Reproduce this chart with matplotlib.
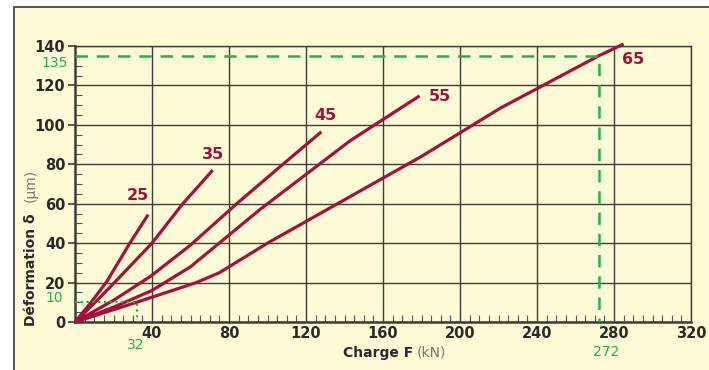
# Déformation en fonction de la charge (abaque)

import matplotlib.pyplot as plt
from matplotlib.patches import Rectangle
from matplotlib.ticker import MultipleLocator

F_25 = [0, 8, 16.5, 28.5, 38]
d_25 = [0, 9.5, 20.5, 40, 54.5]
F_35 = [0, 10, 20, 40, 56, 71.5]
d_35 = [0, 9.5, 19.5, 40, 60, 77]
F_45 = [0, 20, 39, 60, 84, 108, 128]
d_45 = [0, 11, 23, 39, 60, 80, 96.5]
F_55 = [0, 20, 40, 60, 96, 143, 179]
d_55 = [0, 7.5, 16, 28, 57, 92, 114.7]
F_65 = [0, 32, 63, 75, 100, 140, 180, 221, 272, 285]
d_65 = [0, 10, 20, 25, 40, 62, 84, 108.5, 135, 141]

courbes = ['25', '35', '45', '55', '65']
pos_etiq = [(32.5, 64), (71.5, 85), (130, 104.5), (189.5, 114.5), (290, 133)]

xticks = [40, 80, 120, 160, 200, 240, 280, 320]
yticks = [0, 20, 40, 60, 80, 100, 120, 140]

# exemple de lecture
F_ex1, d_ex1 = 272, 135
F_ex2, d_ex2 = 32, 10

rouge = '#A4113A'
vert = '#1DB44E'
fond = '#FFFBD6'

fig = plt.figure(figsize=(7.09, 3.70), dpi=100)
cadre = Rectangle((14/709, -0.1), 1.2, 1.1 - 7/370, transform=fig.transFigure,
                  facecolor=fond, edgecolor='#444444', linewidth=1.3, zorder=-5)
fig.add_artist(cadre)
ax = fig.add_axes([75/709, 1-322/370, 616/709, 276/370])
ax.set_facecolor(fond)

ax.set_xlim(0, 320)
ax.set_ylim(0, 140)
ax.set_xticks(xticks)
ax.set_yticks(yticks)
ax.xaxis.set_minor_locator(MultipleLocator(5))
ax.yaxis.set_minor_locator(MultipleLocator(5))
ax.grid(True, which='major', color='#3c3c3c', linewidth=1.0)
ax.tick_params(axis='x', which='major', length=0, pad=3, labelsize=10.5, labelcolor='#2a2a2a')
ax.tick_params(axis='y', which='major', length=5, width=1.2, color='#3c3c3c', pad=2,
               labelsize=10.5, labelcolor='#2a2a2a')
ax.tick_params(which='minor', direction='in', length=5, width=0.8, color='#555555')
for lab in ax.get_xticklabels() + ax.get_yticklabels():
    lab.set_fontweight('bold')
for s in ax.spines.values():
    s.set_color('#3c3c3c')
    s.set_linewidth(1.0)
ax.spines['left'].set_linewidth(1.8)
ax.spines['bottom'].set_linewidth(1.8)

# courbes
donnees = [(F_25, d_25), (F_35, d_35), (F_45, d_45), (F_55, d_55), (F_65, d_65)]
for (F, d), nom, (xe, ye) in zip(donnees, courbes, pos_etiq):
    ax.plot(F, d, color=rouge, linewidth=2.3, solid_capstyle='butt', solid_joinstyle='round',
            clip_on=False, zorder=4)
    ax.text(xe, ye, nom, color=rouge, fontsize=11.5, fontweight='bold', ha='center', va='center')

# lecture 65 : 272 kN -> 135 µm
ax.plot([0, F_ex1, F_ex1], [d_ex1, d_ex1, 0], color=vert, linewidth=1.8,
        linestyle=(0, (5, 3.5)), zorder=5)
# lecture 65 : 32 kN -> 10 µm
ax.plot([0, F_ex2, F_ex2], [d_ex2, d_ex2, 0], color=vert, linewidth=1.6,
        linestyle=(0, (1, 1.6)), zorder=5)

ax.text(-3.5, d_ex1 - 3.5, str(d_ex1), color=vert, fontsize=10, ha='right', va='center')
ax.text(-6, d_ex2 + 2, str(d_ex2), color=vert, fontsize=10, ha='right', va='center')
ax.text(F_ex2 + 4, -8, str(F_ex2), color=vert, fontsize=10, ha='right', va='top')
ax.text(F_ex1 + 4, -11.5, str(F_ex1), color=vert, fontsize=10, ha='center', va='top')

# titres des axes
fig.text(31/709, 1 - 326/370, 'Déformation δ', rotation=90, fontsize=10, fontweight='bold',
         color='#2a2a2a', ha='center', va='bottom')
fig.text(31/709, 1 - 202/370, '(µm)', rotation=90, fontsize=10, color='#777777',
         ha='center', va='bottom')
fig.text(413/709, 1 - 353/370, 'Charge F', fontsize=10, fontweight='bold', color='#2a2a2a',
         ha='right', va='center')
fig.text(417/709, 1 - 353/370, '(kN)', fontsize=10, color='#777777', ha='left', va='center')

plt.savefig('out.png', dpi=100)
